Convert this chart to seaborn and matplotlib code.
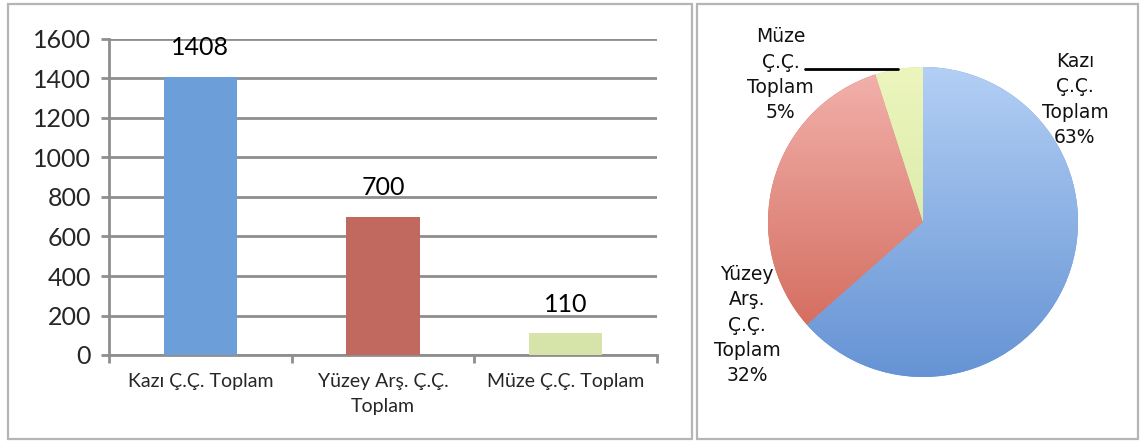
import numpy as np
import pandas as pd
import matplotlib
matplotlib.use("Agg")
import matplotlib.pyplot as plt
import matplotlib.colors as mcolors
from matplotlib.patches import Rectangle
import seaborn as sns

# data
categories = ["Kazı Ç.Ç. Toplam", "Yüzey Arş. Ç.Ç.\nToplam", "Müze Ç.Ç. Toplam"]
values = [1408, 700, 110]
pie_labels = ["Kazı\nÇ.Ç.\nToplam\n63%", "Yüzey\nArş.\nÇ.Ç.\nToplam\n32%", "Müze\nÇ.Ç.\nToplam\n5%"]
bar_colors = ["#6c9ed9", "#c1685f", "#d6e4aa"]
# pie gradients (top colour, bottom colour)
pie_grad = [("#b3cff5", "#6593d4"), ("#f2b2ac", "#cf6152"), ("#ecf5bd", "#cde39a")]

sns.set_theme(style="white")
plt.rcParams["font.family"] = ["Lato", "DejaVu Sans"]

W, H = 1141, 443
fig = plt.figure(figsize=(W / 100, H / 100), dpi=100)

# panel frames
for x0, x1 in [(8, 692), (697, 1138)]:
    fig.patches.append(Rectangle((x0 / W, 4 / H), (x1 - x0) / W, (439 - 4) / H,
                                 transform=fig.transFigure, fill=False,
                                 edgecolor="#b5b5b5", lw=1.6))

# ---- bar chart ----
ax = fig.add_axes([109 / W, 1 - 355 / H, (657 - 109) / W, (355 - 39) / H])
df = pd.DataFrame({"cat": categories, "val": values})
sns.barplot(data=df, x="cat", y="val", hue="cat", palette=bar_colors,
            width=0.4, saturation=1, legend=False, ax=ax, zorder=3, linewidth=0)
ax.set_xlim(-0.5, 2.5)
ax.set_ylim(0, 1600)
ax.set_yticks(range(0, 1601, 200))
ax.yaxis.grid(True, color="#8e8e8e", lw=2, zorder=0)
ax.set_axisbelow(True)
for s in ["top", "right"]:
    ax.spines[s].set_visible(False)
for s in ["left", "bottom"]:
    ax.spines[s].set_color("#8e8e8e")
    ax.spines[s].set_linewidth(2)
ax.set_xlabel("")
ax.set_ylabel("")
ax.tick_params(axis="y", which="major", length=6, width=2, color="#8e8e8e",
               labelsize=18, pad=7, left=True)
ax.tick_params(axis="x", which="major", length=0, labelsize=14, pad=13)
ax.set_xticks([-0.5, 0.5, 1.5, 2.5], minor=True)
ax.tick_params(axis="x", which="minor", length=6, width=2, color="#8e8e8e", bottom=True)
for t in ax.get_xticklabels():
    t.set_linespacing(1.55)
for i, v in enumerate(values):
    ax.annotate(str(v), (i, v), xytext=(0, 21), textcoords="offset points",
                ha="center", va="center", fontsize=18, color="black")

# ---- pie chart ----
r = 155
cx, cy = 923, 222
pax = fig.add_axes([(cx - r) / W, 1 - (cy + r) / H, 2 * r / W, 2 * r / H])
wedges, _ = pax.pie(values, startangle=90, counterclock=False, radius=1,
                    colors=[c[1] for c in pie_grad],
                    wedgeprops=dict(linewidth=0))
for w, (top, bot) in zip(wedges, pie_grad):
    cmap = mcolors.LinearSegmentedColormap.from_list("g", [bot, top])
    grad = np.linspace(0, 1, 256).reshape(-1, 1)
    im = pax.imshow(grad, extent=(-1, 1, -1, 1), origin="lower", cmap=cmap,
                    aspect="auto", zorder=2)
    im.set_clip_path(w)
pax.set_xlim(-1, 1)
pax.set_ylim(-1, 1)
pax.axis("off")

lab_pos = [(0.98, 0.79), (-1.135, -0.665), (-0.92, 0.95)]
for (x, y), txt in zip(lab_pos, pie_labels):
    pax.text(x, y, txt, ha="center", va="center", fontsize=13.5,
             family=["DejaVu Sans"], linespacing=1.42, color="#111111", zorder=5)
pax.plot([-0.76, -0.16], [0.99, 0.99], color="black", lw=2, clip_on=False, zorder=5)

fig.savefig("out.png", dpi=100)
